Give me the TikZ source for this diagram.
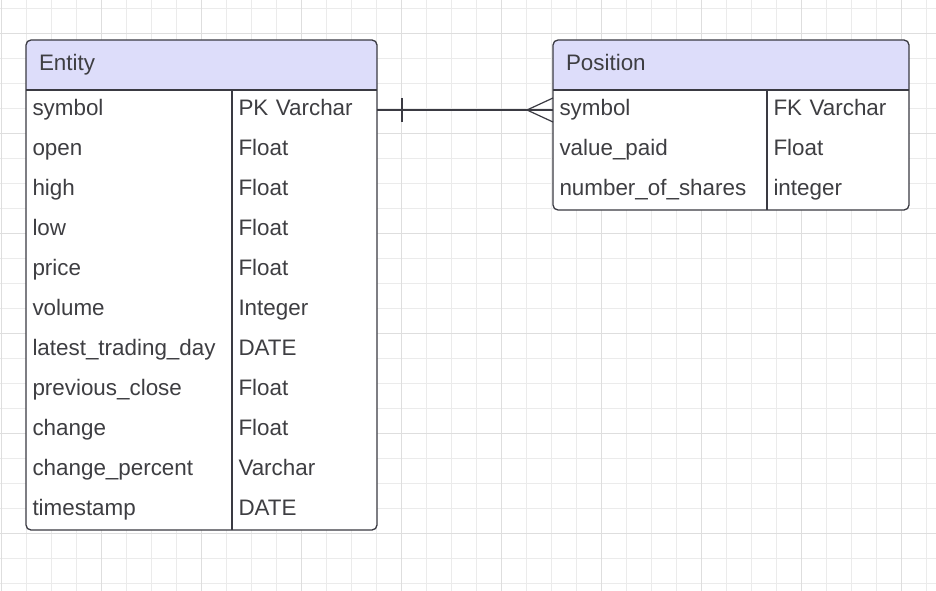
\documentclass[tikz,border=0pt]{standalone}
\usepackage{fontspec}
\setmainfont{Liberation Sans}
\usetikzlibrary{positioning,fit,backgrounds}

\definecolor{headfill}{RGB}{221,221,250}
\definecolor{inkgray}{RGB}{62,62,66}
\definecolor{edgegray}{RGB}{58,58,66}
\definecolor{gridminor}{RGB}{235,235,235}
\definecolor{gridmajor}{RGB}{222,222,222}

\begin{document}
\begin{tikzpicture}[
  x=1pt, y=1pt,
  every node/.style={inner ysep=0pt, outer sep=0pt, text=inkgray, align=left,
    font=\fontsize{22.4}{26}\selectfont, text height=16pt, text depth=4.8pt},
  tabletitle/.style={anchor=north west, minimum height=50pt, inner xsep=13pt, text width=#1},
  cell/.style={minimum height=40pt, inner xsep=6.5pt, text width=#1},
  tableframe/.style={draw=edgegray, line width=1.3pt, rounded corners=5pt, inner sep=0pt},
  divider/.style={draw=edgegray, line width=1.1pt},
  erline/.style={draw=edgegray, line width=1.2pt},
  ]
  \useasboundingbox (0,0) rectangle (936,590);

  % Entity table
  \node[tabletitle=325pt] (entity) at (26,550) {Entity};
  \node[cell=193pt, anchor=north west] (e1) at (entity.south west) {symbol};
  \node[cell=193pt, below=0pt of e1] (e2) {open};
  \node[cell=193pt, below=0pt of e2] (e3) {high};
  \node[cell=193pt, below=0pt of e3] (e4) {low};
  \node[cell=193pt, below=0pt of e4] (e5) {price};
  \node[cell=193pt, below=0pt of e5] (e6) {volume};
  \node[cell=193pt, below=0pt of e6] (e7) {latest\_trading\_day};
  \node[cell=193pt, below=0pt of e7] (e8) {previous\_close};
  \node[cell=193pt, below=0pt of e8] (e9) {change};
  \node[cell=193pt, below=0pt of e9] (e10) {change\_percent};
  \node[cell=193pt, below=0pt of e10] (e11) {timestamp};
  \node[cell=132pt, right=0pt of e1] (e1t) {PK Varchar};
  \node[cell=132pt, right=0pt of e2] (e2t) {Float};
  \node[cell=132pt, right=0pt of e3] (e3t) {Float};
  \node[cell=132pt, right=0pt of e4] (e4t) {Float};
  \node[cell=132pt, right=0pt of e5] (e5t) {Float};
  \node[cell=132pt, right=0pt of e6] (e6t) {Integer};
  \node[cell=132pt, right=0pt of e7] (e7t) {DATE};
  \node[cell=132pt, right=0pt of e8] (e8t) {Float};
  \node[cell=132pt, right=0pt of e9] (e9t) {Float};
  \node[cell=132pt, right=0pt of e10] (e10t) {Varchar};
  \node[cell=132pt, right=0pt of e11] (e11t) {DATE};
  \node[tableframe, fit=(entity)(e11)(e11t)] (entitybox) {};

  % Position table
  \node[tabletitle=330pt] (position) at (553,550) {Position};
  \node[cell=201pt, anchor=north west] (p1) at (position.south west) {symbol};
  \node[cell=201pt, below=0pt of p1] (p2) {value\_paid};
  \node[cell=201pt, below=0pt of p2] (p3) {number\_of\_shares};
  \node[cell=129pt, right=0pt of p1] (p1t) {FK Varchar};
  \node[cell=129pt, right=0pt of p2] (p2t) {Float};
  \node[cell=129pt, right=0pt of p3] (p3t) {integer};
  \node[tableframe, fit=(position)(p3)(p3t)] (positionbox) {};

  % inner lines
  \draw[divider] (entity.south west) -- (entity.south east);
  \draw[divider] (e1.north east) -- (e11.south east);
  \draw[divider] (position.south west) -- (position.south east);
  \draw[divider] (p1.north east) -- (p3.south east);

  % relation: one to many
  \draw[erline] (e1t.east) -- (p1.west);
  \draw[erline] ([xshift=25pt]e1t.east) ++(0,12) -- ++(0,-24);
  \draw[erline] (p1.west) ++(0,12) -- ++(-26,-12) -- ++(26,-12);

  \begin{scope}[on background layer]
    \clip (0,0) rectangle (936,590);
    \fill[white] (0,0) rectangle (936,590);
    \draw[gridminor, line width=0.7pt, step=25pt, shift={(1.7,6.5)}] (-25,-25) grid (950,600);
    \draw[gridmajor, line width=0.8pt, step=100pt, shift={(1.7,56.5)}] (-100,-100) grid (1000,600);
    \fill[white, rounded corners=5pt] (entitybox.north west) rectangle (entitybox.south east);
    \fill[headfill, rounded corners=5pt] (entity.north west) rectangle (entity.south east);
    \fill[headfill] (entity.west) rectangle (entity.south east);
    \fill[white, rounded corners=5pt] (positionbox.north west) rectangle (positionbox.south east);
    \fill[headfill, rounded corners=5pt] (position.north west) rectangle (position.south east);
    \fill[headfill] (position.west) rectangle (position.south east);
  \end{scope}
\end{tikzpicture}
\end{document}
